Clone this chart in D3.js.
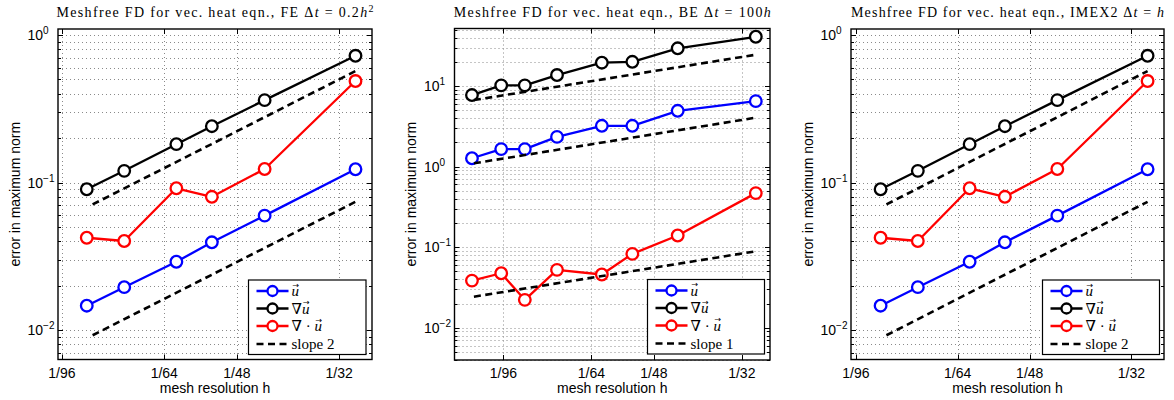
<!DOCTYPE html>
<html>
<head>
<meta charset="utf-8">
<script src="https://cdn.jsdelivr.net/npm/d3@7"></script>
<style>
  body { margin: 0; background: #fff; }
  svg { display: block; }
</style>
</head>
<body>
<svg id="chart" width="1174" height="400"></svg>
<script>
// Mesh resolutions h = 1/n (n listed)
const meshFE = [87, 75, 61, 53, 43, 30];
const meshBE = [111, 97, 87, 75, 61, 53, 43, 30];
const meshIMEX = [87, 75, 61, 53, 43, 30];

const xTickDen = [96, 64, 48, 32];
const xTickLabels = ["1/96", "1/64", "1/48", "1/32"];

// Forward Euler, dt = 0.2 h^2
const feErrU = [0.0146, 0.0195, 0.0290, 0.0393, 0.0596, 0.123];
const feErrGradU = [0.090, 0.120, 0.182, 0.241, 0.362, 0.724];
const feErrDivU = [0.0422, 0.0401, 0.0914, 0.080, 0.1235, 0.488];
const feSlopeMesh = [85, 30];
const feSlopeUpper = [0.071, 0.57];
const feSlopeLower = [0.0092, 0.074];

// Backward Euler, dt = 100 h
const beErrU = [1.27, 1.65, 1.65, 2.34, 3.21, 3.21, 4.93, 6.5];
const beErrGradU = [7.73, 10.2, 10.2, 13.7, 19.5, 20.0, 29.4, 40.9];
const beErrDivU = [0.0385, 0.0475, 0.0222, 0.0523, 0.0458, 0.0827, 0.1396, 0.469];
const beSlopeMesh = [110, 30];
const beSlopeUpper = [6.7, 24.5];
const beSlopeMiddle = [1.1, 4.05];
const beSlopeLower = [0.0243, 0.089];

// IMEX2, dt = h
const imexErrU = [0.0146, 0.0195, 0.0290, 0.0393, 0.0596, 0.123];
const imexErrGradU = [0.090, 0.120, 0.182, 0.241, 0.362, 0.724];
const imexErrDivU = [0.0422, 0.0401, 0.0914, 0.080, 0.1235, 0.488];
const imexSlopeMesh = [85, 30];
const imexSlopeUpper = [0.071, 0.57];
const imexSlopeLower = [0.0092, 0.074];

const seriesColors = ["#0000ff", "#000000", "#ff0000"];
// legend entries: operator prefix applied to the vector u
const legendPrefixes = ["", "∇", "∇ · "];

const svg = d3.select("#chart");

const panels = [
  {
    title: [["Meshfree FD for vec. heat eqn., FE Δ", 0], ["t", 1], [" = 0.2", 0], ["h", 1], ["2", 2]],
    titleWidth: 317,
    left: 58, right: 372, top: 29, bottom: 359.5,
    xDomain: [1 / 97.5, 1 / 28.1], yDomain: [0.0063, 1.1],
    yDecades: [-2, -1, 0],
    mesh: meshFE, series: [feErrU, feErrGradU, feErrDivU],
    slopeMesh: feSlopeMesh, slopes: [feSlopeUpper, feSlopeLower], slopeLabel: "slope 2",
    legend: { x: 248.5, y: 280, w: 117.5, h: 74.5 }
  },
  {
    title: [["Meshfree FD for vec. heat eqn., BE Δ", 0], ["t", 1], [" = 100", 0], ["h", 1]],
    titleWidth: 317,
    left: 454.5, right: 770, top: 28.5, bottom: 360,
    xDomain: [1 / 120.3, 1 / 28.1], yDomain: [0.00398, 51.8],
    yDecades: [-2, -1, 0, 1],
    mesh: meshBE, series: [beErrU, beErrGradU, beErrDivU],
    slopeMesh: beSlopeMesh, slopes: [beSlopeUpper, beSlopeMiddle, beSlopeLower], slopeLabel: "slope 1",
    legend: { x: 647.5, y: 279.5, w: 117, h: 74.5 }
  },
  {
    title: [["Meshfree FD for vec. heat eqn., IMEX2 Δ", 0], ["t", 1], [" = ", 0], ["h", 1]],
    titleWidth: 313,
    left: 851, right: 1164, top: 29, bottom: 359.5,
    xDomain: [1 / 97.9, 1 / 28.1], yDomain: [0.0063, 1.1],
    yDecades: [-2, -1, 0],
    mesh: meshIMEX, series: [imexErrU, imexErrGradU, imexErrDivU],
    slopeMesh: imexSlopeMesh, slopes: [imexSlopeUpper, imexSlopeLower], slopeLabel: "slope 2",
    legend: { x: 1042.5, y: 280, w: 117, h: 74.5 }
  }
];

const sans = "'Liberation Sans', Arial, sans-serif";
const serif = "'Liberation Serif', 'DejaVu Serif', serif";

function drawPanel(p) {
  const g = svg.append("g");
  const x = d3.scaleLog().domain(p.xDomain).range([p.left, p.right]);
  const y = d3.scaleLog().domain(p.yDomain).range([p.bottom, p.top]);

  // minor + major y grid values (k * 10^e inside the domain)
  const yGridVals = [];
  const eMin = Math.floor(Math.log10(p.yDomain[0]));
  const eMax = Math.ceil(Math.log10(p.yDomain[1]));
  for (let e = eMin; e <= eMax; e++) {
    for (let k = 1; k <= 9; k++) {
      const v = k * Math.pow(10, e);
      if (v >= p.yDomain[0] && v <= p.yDomain[1]) yGridVals.push({ v, major: k === 1 });
    }
  }
  const xTicks = xTickDen.map(n => 1 / n);

  // dotted grid
  const grid = g.append("g").attr("stroke", "#8a8a8a").attr("stroke-width", 1)
    .attr("stroke-dasharray", "1,3").attr("fill", "none");
  grid.selectAll("line.h").data(yGridVals).join("line")
    .attr("x1", p.left).attr("x2", p.right)
    .attr("y1", d => Math.round(y(d.v)) + 0.5).attr("y2", d => Math.round(y(d.v)) + 0.5);
  grid.selectAll("line.v").data(xTicks).join("line")
    .attr("x1", d => Math.round(x(d)) + 0.5).attr("x2", d => Math.round(x(d)) + 0.5)
    .attr("y1", p.top).attr("y2", p.bottom);

  const line = d3.line().x(d => x(1 / d[0])).y(d => y(d[1]));

  // error curves with circle markers
  p.series.forEach((vals, si) => {
    const pts = p.mesh.map((n, i) => [n, vals[i]]);
    g.append("path").datum(pts).attr("d", line)
      .attr("fill", "none").attr("stroke", seriesColors[si]).attr("stroke-width", 2.3)
      .attr("stroke-linejoin", "round");
    g.append("g").selectAll("circle").data(pts).join("circle")
      .attr("cx", d => x(1 / d[0])).attr("cy", d => y(d[1])).attr("r", 5.8)
      .attr("fill", "#fff").attr("stroke", seriesColors[si]).attr("stroke-width", 2.3);
  });

  // reference slope lines
  p.slopes.forEach(vals => {
    const pts = p.slopeMesh.map((n, i) => [n, vals[i]]);
    g.append("path").datum(pts).attr("d", line)
      .attr("fill", "none").attr("stroke", "#000").attr("stroke-width", 2.6)
      .attr("stroke-dasharray", "7,4.5");
  });

  // axes box and tick marks
  const ax = g.append("g").attr("stroke", "#000").attr("fill", "none");
  ax.append("rect").attr("x", p.left).attr("y", p.top)
    .attr("width", p.right - p.left).attr("height", p.bottom - p.top).attr("stroke-width", 1.4);
  yGridVals.forEach(d => {
    const yy = Math.round(y(d.v)) + 0.5;
    const len = d.major ? 5 : 3;
    ax.append("line").attr("x1", p.left).attr("x2", p.left + len).attr("y1", yy).attr("y2", yy);
    ax.append("line").attr("x1", p.right).attr("x2", p.right - len).attr("y1", yy).attr("y2", yy);
  });
  xTicks.forEach(t => {
    const xx = Math.round(x(t)) + 0.5;
    ax.append("line").attr("x1", xx).attr("x2", xx).attr("y1", p.bottom).attr("y2", p.bottom - 5);
    ax.append("line").attr("x1", xx).attr("x2", xx).attr("y1", p.top).attr("y2", p.top + 5);
  });

  // x tick labels
  g.append("g").selectAll("text").data(xTicks).join("text")
    .attr("x", d => x(d)).attr("y", 378).attr("text-anchor", "middle")
    .attr("font-family", sans).attr("font-size", 14)
    .text((d, i) => xTickLabels[i]);

  // y tick labels 10^e (base and raised exponent in one text)
  p.yDecades.forEach(e => {
    const yy = y(Math.pow(10, e));
    const t = g.append("text").attr("x", p.left - 30.5).attr("y", yy + 5)
      .attr("font-family", sans).attr("font-size", 14);
    t.append("tspan").text("10");
    t.append("tspan").attr("font-size", 10).attr("dy", -6)
      .text(e < 0 ? "−" + (-e) : String(e));
  });

  // axis labels
  g.append("text").attr("x", (p.left + p.right) / 2).attr("y", 393)
    .attr("text-anchor", "middle")
    .attr("font-family", sans).attr("font-size", 14)
    .text("mesh resolution h");
  const cy = (p.top + p.bottom) / 2;
  g.append("text").attr("transform", `translate(${p.left - 38.5},${cy}) rotate(-90)`)
    .attr("text-anchor", "middle")
    .attr("font-family", sans).attr("font-size", 14)
    .text("error in maximum norm");

  // title
  const title = g.append("text").attr("x", (p.left + p.right) / 2).attr("y", 17)
    .attr("text-anchor", "middle")
    .attr("font-family", "'Liberation Serif', 'Times New Roman', serif").attr("font-size", 14)
    .attr("textLength", p.titleWidth).attr("lengthAdjust", "spacing");
  p.title.forEach(([txt, kind]) => {
    const ts = title.append("tspan").text(txt);
    if (kind === 1) ts.attr("font-style", "italic");
    if (kind === 2) ts.attr("font-size", 10).attr("dy", -5);
  });

  // legend
  const L = p.legend;
  const lg = g.append("g");
  lg.append("rect").attr("x", L.x).attr("y", L.y).attr("width", L.w).attr("height", L.h)
    .attr("fill", "#fff").attr("stroke", "#000").attr("stroke-width", 1.2);
  const rowY = [11, 28.5, 46, 64];
  legendPrefixes.forEach((prefix, i) => {
    const yy = L.y + rowY[i];
    lg.append("line").attr("x1", L.x + 8).attr("x2", L.x + 40).attr("y1", yy).attr("y2", yy)
      .attr("stroke", seriesColors[i]).attr("stroke-width", 2.3);
    lg.append("circle").attr("cx", L.x + 24).attr("cy", yy).attr("r", 5)
      .attr("fill", "#fff").attr("stroke", seriesColors[i]).attr("stroke-width", 2.3);
    const t = lg.append("text").attr("x", L.x + 43).attr("y", yy + 5)
      .attr("font-family", serif).attr("font-size", 15);
    if (prefix) t.append("tspan").text(prefix);
    const u = t.append("tspan").attr("font-style", "italic").text("u");
    const uw = u.node().getComputedTextLength();
    // vector arrow set over the italic u
    t.append("tspan").attr("font-family", "'DejaVu Sans', sans-serif").attr("font-size", 8)
      .attr("dx", -uw + 1).attr("dy", -8.5).text("→");
  });
  const sy = L.y + rowY[3];
  lg.append("line").attr("x1", L.x + 8).attr("x2", L.x + 40).attr("y1", sy).attr("y2", sy)
    .attr("stroke", "#000").attr("stroke-width", 2.6).attr("stroke-dasharray", "7,4.5");
  lg.append("text").attr("x", L.x + 43).attr("y", sy + 5)
    .attr("font-family", serif).attr("font-size", 15).text(p.slopeLabel);
}

panels.forEach(drawPanel);
</script>
</body>
</html>
